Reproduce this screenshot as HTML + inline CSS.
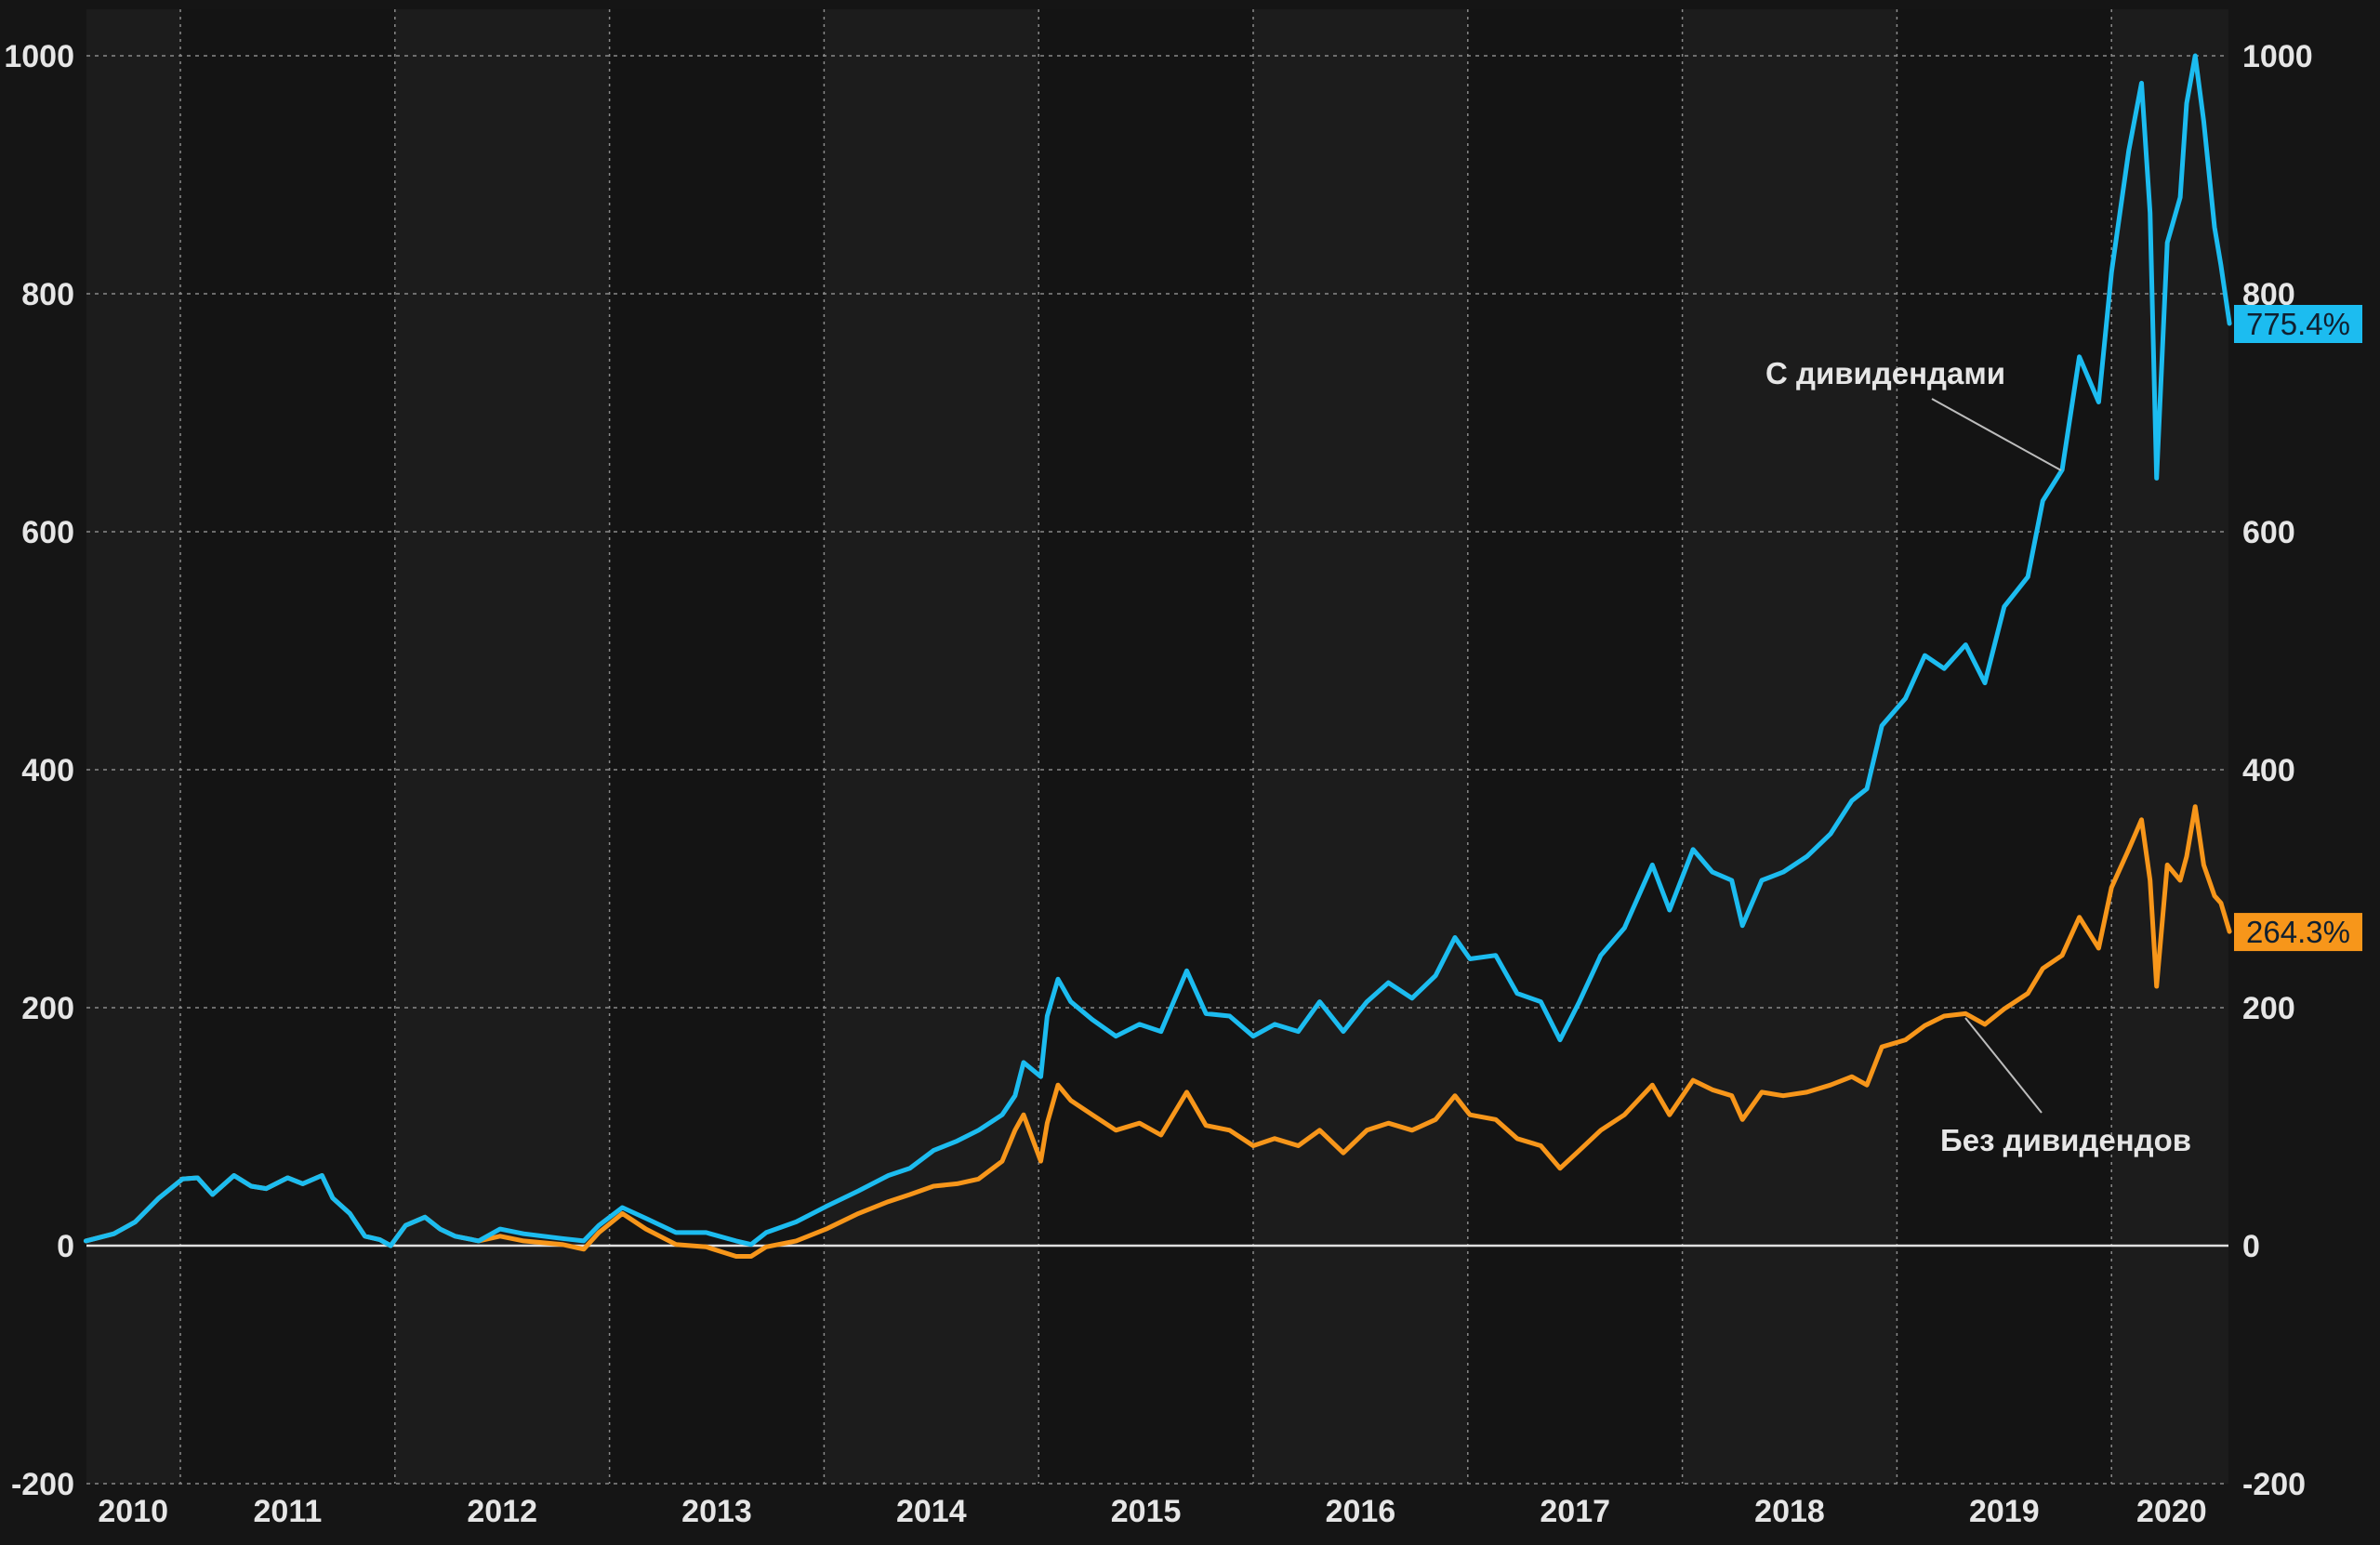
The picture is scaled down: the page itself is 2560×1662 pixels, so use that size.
<!DOCTYPE html>
<html><head><meta charset="utf-8">
<style>
html,body{margin:0;padding:0;background:#151515;}
svg{display:block;}
text{font-family:"Liberation Sans",sans-serif;}
</style></head>
<body>
<svg id="chart" width="2560" height="1662" viewBox="0 0 2560 1662" xmlns="http://www.w3.org/2000/svg">
<rect x="0" y="0" width="2560" height="1662" fill="#151515"/>
<g id="bands"></g><g id="grid"></g><g id="axes"></g><g id="series"></g><g id="notes"></g>
</svg>
<script>
const dates=[2010.56,2010.69,2010.79,2010.90,2011.01,2011.08,2011.15,2011.25,2011.33,2011.40,2011.50,2011.57,2011.66,2011.71,2011.79,2011.86,2011.93,2011.98,2012.05,2012.14,2012.21,2012.28,2012.39,2012.49,2012.60,2012.78,2012.88,2012.95,2013.06,2013.17,2013.31,2013.45,2013.59,2013.66,2013.73,2013.87,2014.01,2014.16,2014.30,2014.40,2014.51,2014.62,2014.72,2014.83,2014.89,2014.93,2015.01,2015.04,2015.09,2015.15,2015.25,2015.36,2015.47,2015.57,2015.69,2015.78,2015.89,2016.00,2016.10,2016.21,2016.31,2016.42,2016.53,2016.63,2016.74,2016.85,2016.94,2017.01,2017.13,2017.23,2017.34,2017.43,2017.52,2017.62,2017.73,2017.86,2017.94,2018.05,2018.14,2018.23,2018.28,2018.37,2018.47,2018.58,2018.69,2018.79,2018.86,2018.93,2019.04,2019.13,2019.22,2019.32,2019.41,2019.50,2019.61,2019.68,2019.77,2019.85,2019.94,2020.00,2020.08,2020.14,2020.18,2020.21,2020.26,2020.32,2020.35,2020.39,2020.43,2020.48,2020.51,2020.55];
const withDividends=[4,10,20,40,56,57,43,59,50,48,57,52,59,40,27,8,5,0,17,24,14,8,4,14,10,6,4,17,32,23,11,11,4,1,11,20,33,46,59,65,80,88,97,110,126,154,142,193,224,205,190,176,186,180,231,195,193,176,186,180,205,180,205,221,208,227,259,241,244,212,205,173,205,244,267,320,282,333,314,307,269,307,314,327,346,374,384,437,460,496,485,505,473,537,562,626,652,747,709,818,920,977,868,645,843,881,960,1000,945,856,824,775];
const withoutDividends=[4,10,20,40,56,57,43,59,50,48,57,52,59,40,27,8,5,0,17,24,14,8,4,8,4,1,-3,11,27,14,1,-1,-9,-9,-1,4,14,27,37,43,50,52,56,71,97,110,71,103,135,122,110,97,103,93,129,101,97,84,90,84,97,78,97,103,97,106,126,110,106,90,84,65,80,97,110,135,110,139,131,126,106,129,126,129,135,142,135,167,173,185,193,195,186,199,212,233,244,276,250,301,333,358,307,218,320,307,327,369,320,294,288,264];
const yTicks=[-200,0,200,400,600,800,1000];
const yearLabels=["2010","2011","2012","2013","2014","2015","2016","2017","2018","2019","2020"];
const yearLabelPos=[2010.78,2011.5,2012.5,2013.5,2014.5,2015.5,2016.5,2017.5,2018.5,2019.5,2020.28];
const gridYears=[2011,2012,2013,2014,2015,2016,2017,2018,2019,2020];
const endLabels=["775.4%","264.3%"];

const NS="http://www.w3.org/2000/svg";
const X0=93,X1=2397,YT=10,YB=1596;
const xs=d=>194+(d-2011)*230.8;
const ys=v=>1340-v*1.28;
function mk(tag,attrs,parent,txt){const e=document.createElementNS(NS,tag);for(const k in attrs)e.setAttribute(k,attrs[k]);if(txt!==undefined)e.textContent=txt;parent.appendChild(e);return e;}
const bands=document.getElementById('bands'),grid=document.getElementById('grid'),axes=document.getElementById('axes'),series=document.getElementById('series'),notes=document.getElementById('notes');

const edges=[X0].concat(gridYears.map(xs)).concat([X1]);
for(let i=0;i<edges.length-1;i++){
  const r=mk('rect',{x:edges[i],y:YT,width:edges[i+1]-edges[i],height:YB-YT,fill:(i%2===0)?'#1c1c1c':'#141414'},bands);
  
  
}
gridYears.forEach(y=>{
  const l=mk('line',{x1:xs(y),x2:xs(y),y1:YT,y2:YB,stroke:'#8a8a8a','stroke-width':1.5,'stroke-dasharray':'3,5'},grid);
  
  
});
yTicks.forEach(t=>{
  const y=ys(t);
  const l=mk('line',{x1:X0,x2:X1,y1:y,y2:y,stroke:t===0?'#e0e0e0':'#8a8a8a','stroke-width':t===0?2.5:1.5,'stroke-dasharray':t===0?'none':'4,5'},grid);
  
  
  const a=mk('text',{x:80,y:y+12,'text-anchor':'end','font-size':34,'font-weight':'bold',fill:'#e6e6e6'},axes,String(t));
  
  
  const b=mk('text',{x:2412,y:y+12,'text-anchor':'start','font-size':34,'font-weight':'bold',fill:'#e6e6e6'},axes,String(t));
  
  
});
yearLabels.forEach((lab,i)=>{
  const t=mk('text',{x:xs(yearLabelPos[i]),y:1637,'text-anchor':'middle','font-size':34,'font-weight':'bold',fill:'#e6e6e6'},axes,lab);
  
  
});
function line(vals,color,name){
  const d=vals.map((v,i)=>(i?'L':'M')+xs(dates[i]).toFixed(1)+','+ys(v).toFixed(1)).join('');
  const p=mk('path',{d:d,fill:'none',stroke:color,'stroke-width':5,'stroke-linejoin':'round','stroke-linecap':'round'},series);
  
  
}
line(withoutDividends,'#f7961a','series-without-dividends');
line(withDividends,'#1cbcf0','series-with-dividends');
[[withDividends,'#1cbcf0',endLabels[0],'end-value-tag-with-dividends'],[withoutDividends,'#f7961a',endLabels[1],'end-value-tag-without-dividends']].forEach(([vals,c,lab,nm])=>{
  const y=ys(vals[vals.length-1]);
  const g=mk('g',{},notes);
  
  
  mk('rect',{x:2403,y:y-20,width:138,height:41,fill:c},g);
  mk('text',{x:2472,y:y+12,'text-anchor':'middle','font-size':33,fill:'#102030'},g,lab);
});
const n1=mk('text',{x:1899,y:413,'font-size':33,'font-weight':'bold',fill:'#e6e6e6'},notes,'С дивидендами');


const l1=mk('line',{x1:2078,x2:2217,y1:429,y2:506,stroke:'#bdbdbd','stroke-width':2},notes);


const n2=mk('text',{x:2087,y:1238,'font-size':33,'font-weight':'bold',fill:'#e6e6e6'},notes,'Без дивидендов');


const l2=mk('line',{x1:2114,x2:2196,y1:1095,y2:1197,stroke:'#bdbdbd','stroke-width':2},notes);


</script>
</body></html>
